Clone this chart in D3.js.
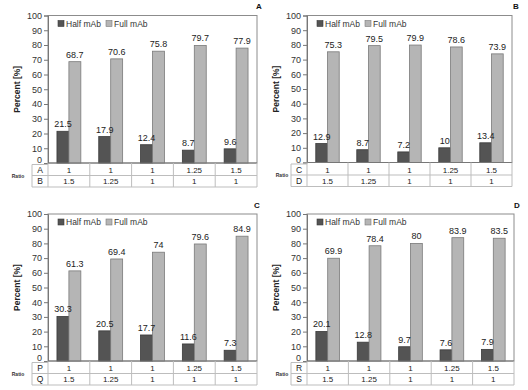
<!DOCTYPE html>
<html><head><meta charset="utf-8">
<script src="https://cdn.jsdelivr.net/npm/d3@7"></script>
<style>
html,body{margin:0;padding:0;background:#fff;}
svg{display:block;}
text{font-family:"Liberation Sans",Arial,sans-serif;}
</style></head>
<body>
<svg id="c" width="528" height="390"></svg>
<script>
// ---- data ----
const categories = ["c1","c2","c3","c4","c5"];
const seriesNames = ["Half mAb","Full mAb"];
const panelLetters = ["A","B","C","D"];
const halfA = [21.5,17.9,12.4,8.7,9.6];
const fullA = [68.7,70.6,75.8,79.7,77.9];
const halfB = [12.9,8.7,7.2,10,13.4];
const fullB = [75.3,79.5,79.9,78.6,73.9];
const halfC = [30.3,20.5,17.7,11.6,7.3];
const fullC = [61.3,69.4,74,79.6,84.9];
const halfD = [20.1,12.8,9.7,7.6,7.9];
const fullD = [69.9,78.4,80,83.9,83.5];
const row1Labels = ["1","1","1","1.25","1.5"];
const row2Labels = ["1.5","1.25","1","1","1"];
const rowNamesA = ["A","B"], rowNamesB = ["C","D"], rowNamesC = ["P","Q"], rowNamesD = ["R","S"];
const yTicks = [0,10,20,30,40,50,60,70,80,90,100];

const colors = {half:"#545454", halfStroke:"#3a3a3a", full:"#b5b5b5", fullStroke:"#7a7a7a"};

const panels = [
  {letter:panelLetters[0], half:halfA, full:fullA, rows:rowNamesA, x0:48, x1:257, yTop:15.5, yBot:163, labX:32, ratioX:18, letX:259, letY:9},
  {letter:panelLetters[1], half:halfB, full:fullB, rows:rowNamesB, x0:307, x1:512, yTop:15.5, yBot:162.5, labX:291, ratioX:282, letX:516, letY:9},
  {letter:panelLetters[2], half:halfC, full:fullC, rows:rowNamesC, x0:48, x1:257, yTop:214, yBot:361, labX:32, ratioX:18, letX:257, letY:208},
  {letter:panelLetters[3], half:halfD, full:fullD, rows:rowNamesD, x0:307, x1:514, yTop:214, yBot:361, labX:291, ratioX:282, letX:517, letY:208}
];

const svg = d3.select("#c");

panels.forEach(p => {
  const g = svg.append("g");
  const x = d3.scaleBand().domain(categories).range([p.x0, p.x1]).paddingInner(0).paddingOuter(0);
  const y = d3.scaleLinear().domain([0,100]).range([p.yBot, p.yTop]);
  const bw = x.bandwidth()/3.5;
  const sub = d3.scaleBand().domain(seriesNames).range([0, 2*bw]);

  // plot border
  g.append("rect").attr("x",p.x0).attr("y",p.yTop).attr("width",p.x1-p.x0).attr("height",p.yBot-p.yTop)
    .attr("fill","none").attr("stroke","#8c8c8c").attr("stroke-width",1);

  // y axis
  const ya = d3.axisLeft(y).tickValues(yTicks).tickSize(4).tickPadding(2);
  const yg = g.append("g").attr("transform",`translate(${p.x0},0)`).call(ya);
  yg.select(".domain").attr("stroke","#777");
  yg.selectAll(".tick line").attr("stroke","#777");
  yg.selectAll(".tick text").attr("font-size","9px").attr("fill","#333").attr("font-family","'Liberation Sans',Arial,sans-serif");
  yg.selectAll(".tick text").filter(d=>d===0).attr("dy","-0.05em");

  // axis title
  const cy = (p.yTop+p.yBot)/2;
  g.append("text").attr("transform",`translate(${p.x0-28},${cy}) rotate(-90)`)
    .attr("text-anchor","middle").attr("font-size","8.5px").attr("font-weight","bold").attr("fill","#222")
    .text("Percent [%]");

  // bars
  const data = categories.map((c,i)=>({c, vals:[{s:seriesNames[0], v:p.half[i]},{s:seriesNames[1], v:p.full[i]}]}));
  const grp = g.selectAll(".grp").data(data).enter().append("g")
    .attr("transform", d => `translate(${x(d.c)+ x.bandwidth()/2 - bw},0)`);
  grp.selectAll("rect").data(d=>d.vals).enter().append("rect")
    .attr("x", d=>sub(d.s)).attr("width", bw)
    .attr("y", d=>y(d.v)).attr("height", d=>y(0)-y(d.v))
    .attr("fill", d=>d.s===seriesNames[0]?colors.half:colors.full)
    .attr("stroke", d=>d.s===seriesNames[0]?colors.halfStroke:colors.fullStroke).attr("stroke-width",0.8);
  grp.selectAll("text").data(d=>d.vals).enter().append("text")
    .attr("x", d=>sub(d.s)+bw/2).attr("y", d=>y(d.v)-4)
    .attr("text-anchor","middle").attr("font-size","9px").attr("fill","#222")
    .text(d=>d.v);

  // x axis line
  g.append("line").attr("x1",p.x0).attr("x2",p.x1).attr("y1",p.yBot).attr("y2",p.yBot).attr("stroke","#777");

  // legend
  const ly = p.yTop + 8;
  const lg = g.append("g");
  [[seriesNames[0],colors.half,colors.halfStroke,10],[seriesNames[1],colors.full,colors.fullStroke,58]].forEach(([n,f,s,dx])=>{
    lg.append("rect").attr("x",p.x0+dx).attr("y",ly-3).attr("width",6).attr("height",6).attr("fill",f).attr("stroke",s).attr("stroke-width",0.6);
    lg.append("text").attr("x",p.x0+dx+8).attr("y",ly+3).attr("font-size","8.5px").attr("fill","#333").text(n);
  });

  // panel letter
  g.append("text").attr("x",p.letX).attr("y",p.letY).attr("text-anchor","middle").attr("font-size","8px").attr("font-weight","bold").attr("fill","#111").text(p.letter);

  // data table
  const r0 = p.yBot+1.5, r1 = p.yBot+12.5, r2 = p.yBot+24;
  const tc = "#bdbdbd";
  [r1,r2].forEach(yy=> g.append("line").attr("x1",p.labX).attr("x2",p.x1).attr("y1",yy).attr("y2",yy).attr("stroke",tc));
  g.append("line").attr("x1",p.labX).attr("x2",p.x0).attr("y1",r0).attr("y2",r0).attr("stroke",tc);
  const vx = [p.labX].concat(categories.map(c=>x(c))).concat([p.x1]);
  vx.forEach(xx=> g.append("line").attr("x1",xx).attr("x2",xx).attr("y1",xx===p.labX?r0:p.yBot).attr("y2",r2).attr("stroke",tc));
  const rowsLab = [row1Labels,row2Labels];
  [[r0,r1],[r1,r2]].forEach(([a,b],ri)=>{
    g.append("text").attr("x",(p.labX+p.x0)/2).attr("y",(a+b)/2+3.2).attr("text-anchor","middle").attr("font-size","8.5px").attr("fill","#222").text(p.rows[ri]);
    categories.forEach((c,ci)=>{
      g.append("text").attr("x",x(c)+x.bandwidth()/2).attr("y",(a+b)/2+3).attr("text-anchor","middle").attr("font-size","8px").attr("fill","#222").text(rowsLab[ri][ci]);
    });
  });
  g.append("text").attr("x",p.ratioX).attr("y",r1+2).attr("text-anchor","middle").attr("font-size","5px").attr("font-weight","bold").attr("fill","#333").text("Ratio");
});
</script>
</body></html>
